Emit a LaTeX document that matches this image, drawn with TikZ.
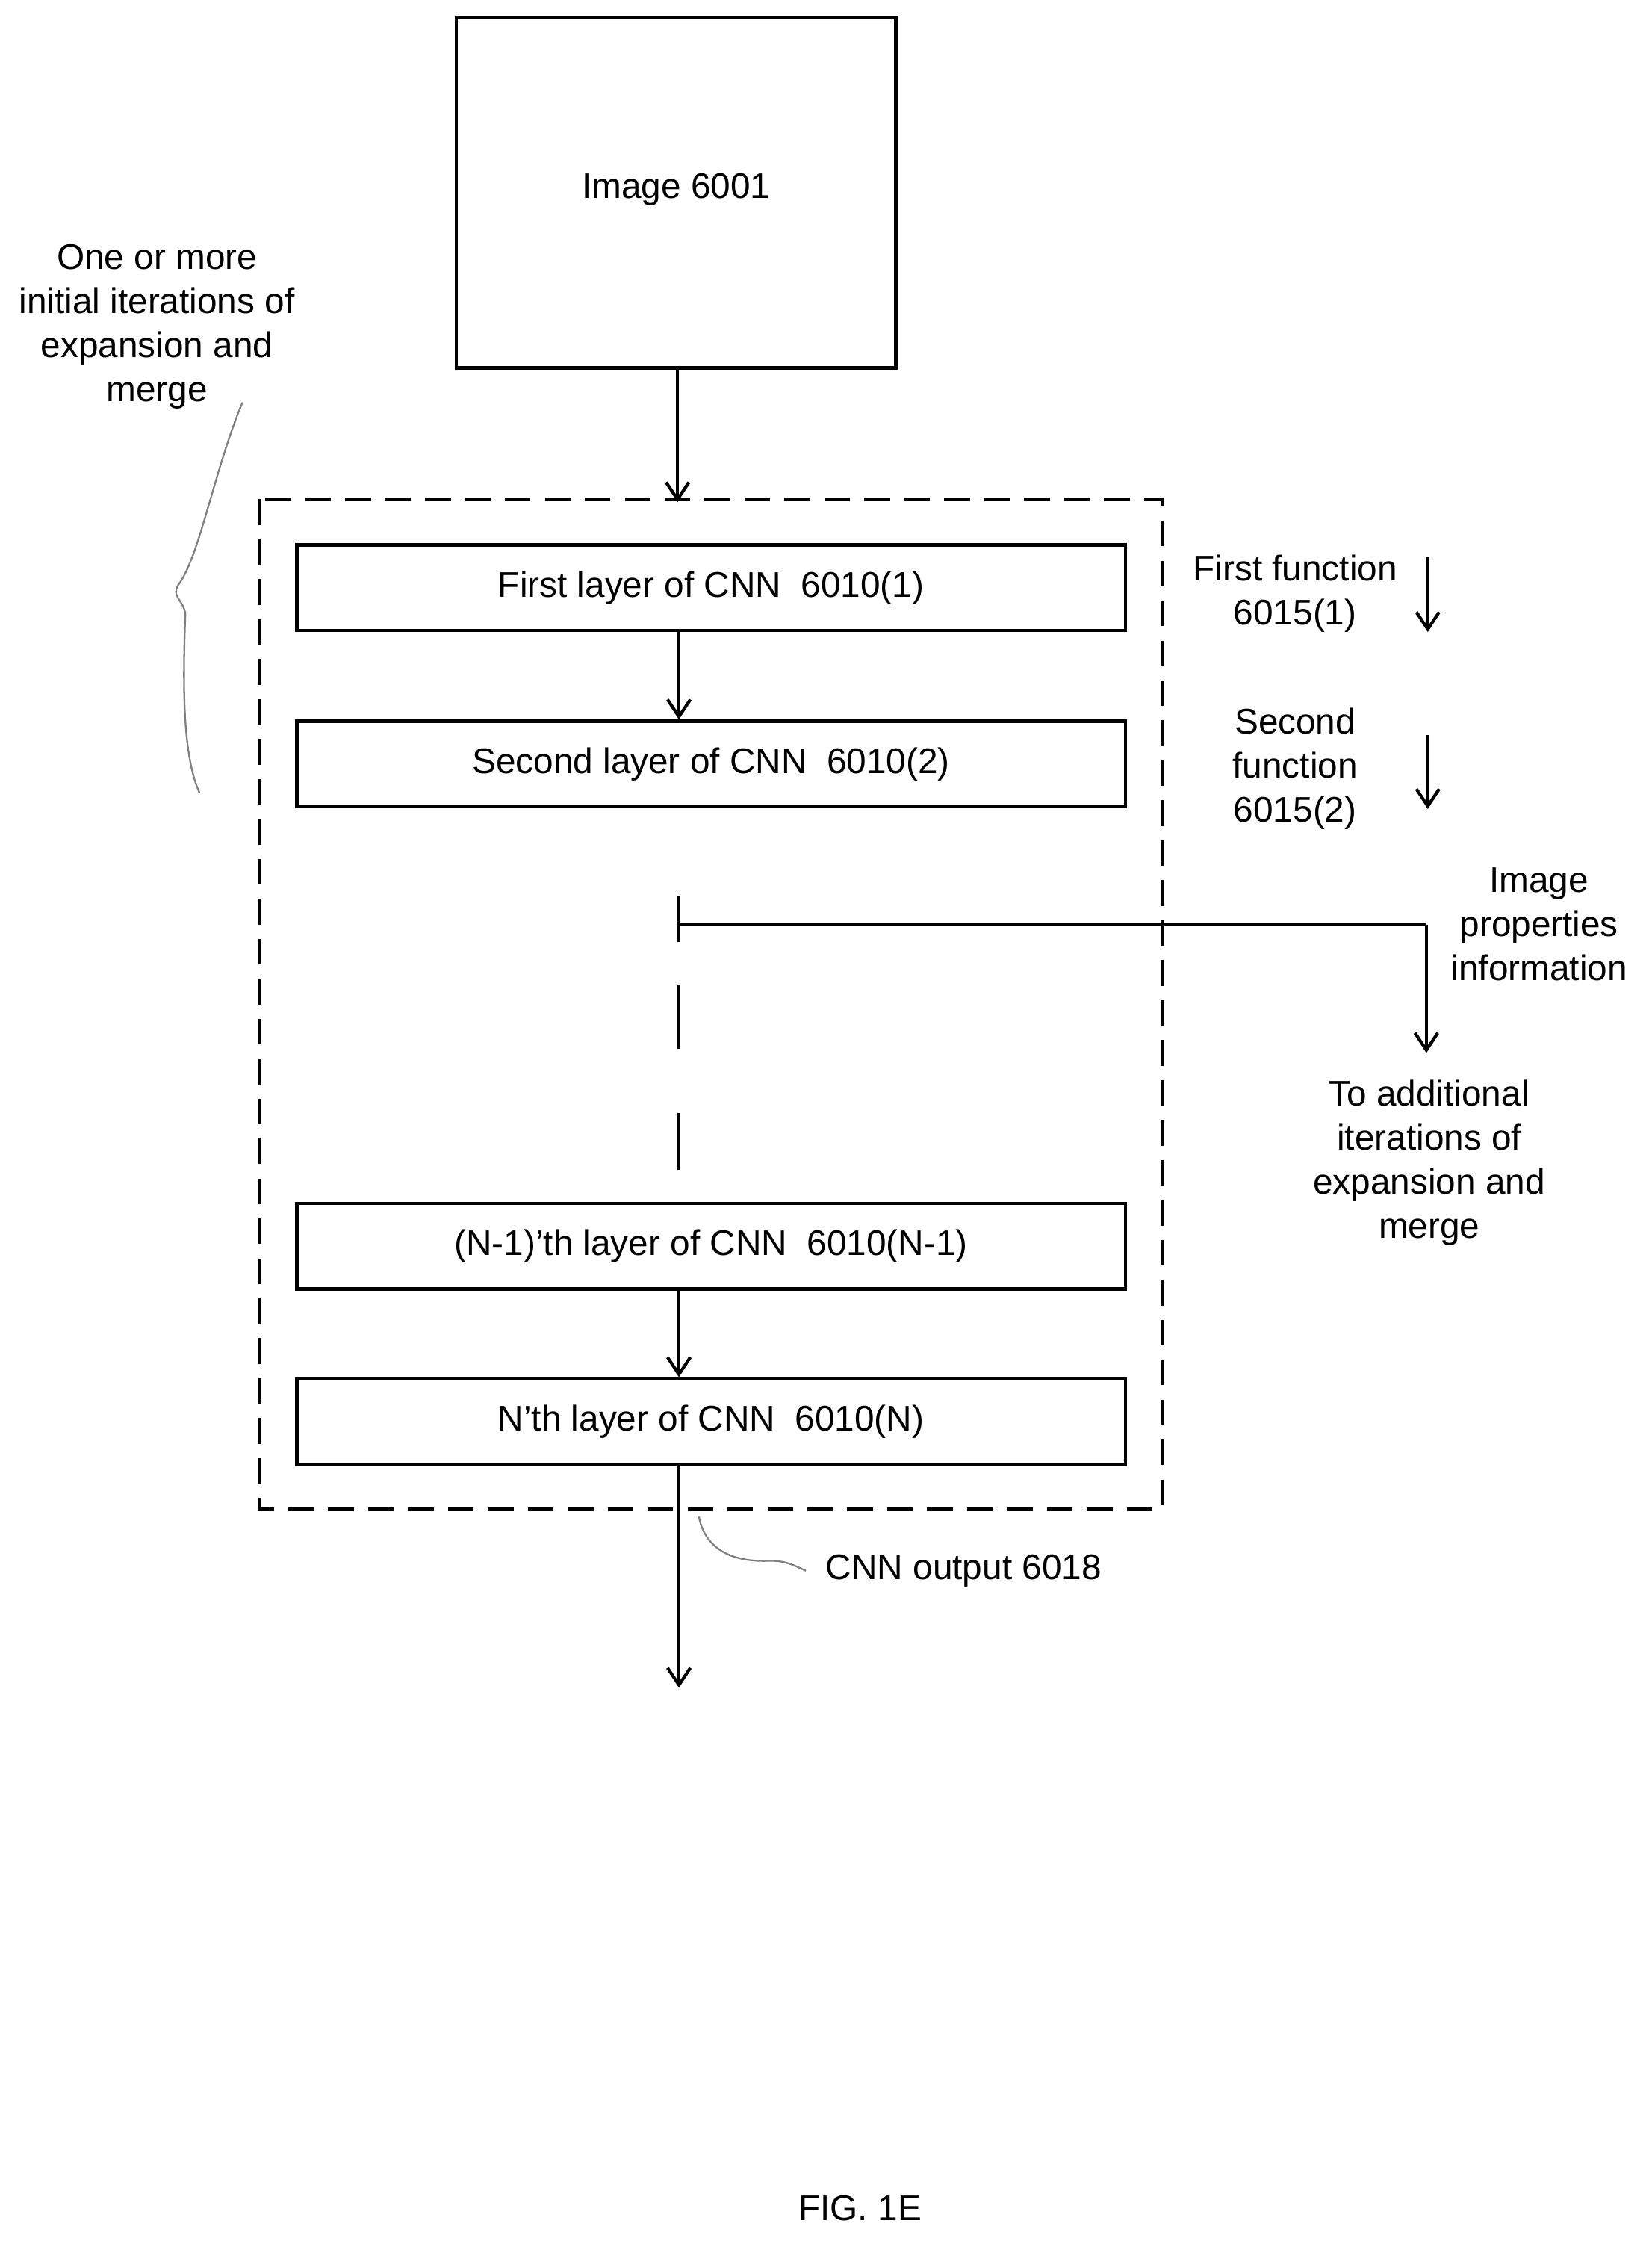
\documentclass[tikz,border=0pt]{standalone}
\usepackage{fontspec}
\setmainfont{Liberation Sans}
\usetikzlibrary{arrows.meta}
\begin{document}
\begin{tikzpicture}[x=0.5pt,y=-0.5pt,
  box/.style={draw,line width=1.2pt,inner sep=0},
  txt/.style={font=\fontsize{12.5}{15.5}\selectfont,align=center},
  arr/.style={line width=1.1pt,-{Straight Barb[length=6pt,width=8pt]}},
  ln/.style={line width=1.1pt}]
\useasboundingbox (0,0) rectangle (1158,1575);
\node[box,minimum width=154pt,minimum height=123pt,txt] (img) at (474,135) {};
\node[txt] at (474,133) {Image 6001};
\draw[line width=1.2pt,dash pattern=on 9pt off 5pt] (182,350) rectangle (815,1058);
\node[box,minimum width=290.5pt,minimum height=30pt,txt] (l1) at (498.5,412) {First layer of CNN\ \ 6010(1)};
\node[box,minimum width=290.5pt,minimum height=30pt,txt] (l2) at (498.5,535.5) {Second layer of CNN\ \ 6010(2)};
\node[box,minimum width=290.5pt,minimum height=30pt,txt] (l3) at (498.5,873.5) {(N-1)’th layer of CNN\ \ 6010(N-1)};
\node[box,minimum width=290.5pt,minimum height=30pt,txt] (l4) at (498.5,996.5) {N’th layer of CNN\ \ 6010(N)};
\coordinate (a0) at (475,352);
\draw[arr] (img.south -| a0) -- (a0);
\draw[arr] (l1.south -| 476,0) -- (l2.north -| 476,0);
\draw[arr] (l3.south -| 476,0) -- (l4.north -| 476,0);
\coordinate (out) at (476,1183);
\draw[arr] (l4.south -| 476,0) -- (out);
% branch
\coordinate (t0) at (476,628); \coordinate (t1) at (476,660);
\coordinate (h) at (476,648); \coordinate (hr) at (1000,648); \coordinate (he) at (1000,738);
\draw[ln] (t0) -- (t1);
\draw[ln] (h) -- (hr);
\draw[arr] (hr) -- (he);
\draw[ln] (476,690) -- (476,735);
\draw[ln] (476,780) -- (476,820);
\node[txt] at (1079,648) {Image\\properties\\information};
\node[txt] at (1002,815) {To additional\\iterations of\\expansion and\\merge};
% functions
\node[txt] at (908,416) {First function\\6015(1)};
\coordinate (f1a) at (1001,390); \coordinate (f1b) at (1001,443);
\draw[arr] (f1a) -- (f1b);
\node[txt] at (908,539) {Second\\function\\6015(2)};
\coordinate (f2a) at (1001,515); \coordinate (f2b) at (1001,567);
\draw[arr] (f2a) -- (f2b);
\node[txt] at (110,229) {One or more\\initial iterations of\\expansion and\\merge};
\draw[gray,line width=0.6pt] (170,282) .. controls (150,330) and (140,390) .. (125,410)
  .. controls (120,418) and (128,420) .. (130,430) .. controls (128,480) and (128,530) .. (140,556);
\draw[gray,line width=0.6pt] (490,1063) .. controls (495,1090) and (520,1095) .. (540,1094) .. controls (552,1094) and (558,1098) .. (565,1101);
\node[txt,anchor=west] at (572,1101) {CNN output 6018};
\node[txt] at (603,1548) {FIG. 1E};
\end{tikzpicture}
\end{document}
